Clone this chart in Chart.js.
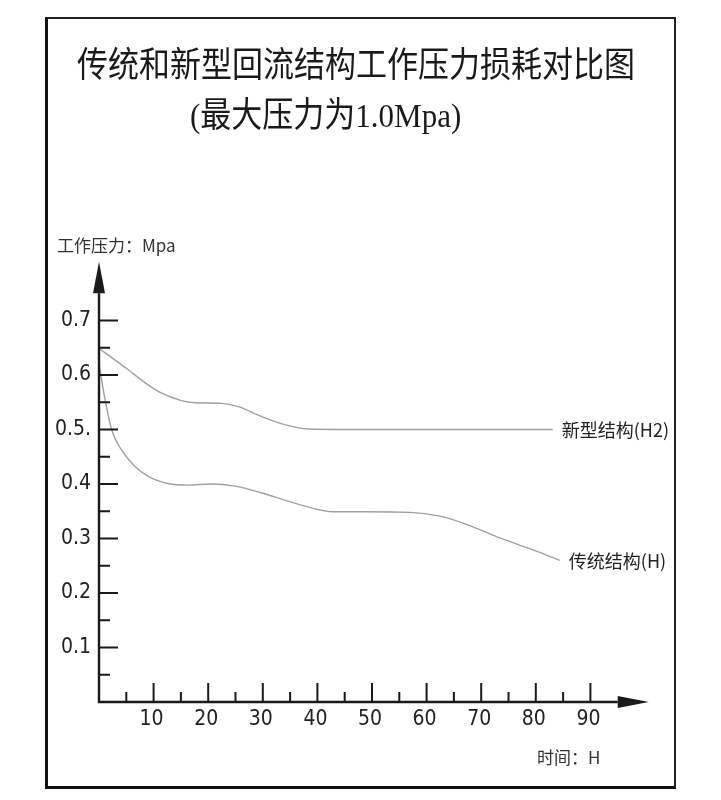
<!DOCTYPE html>
<html lang="zh">
<head>
  <meta charset="UTF-8">
  <title>传统和新型回流结构工作压力损耗对比图</title>
  <script src="https://cdn.jsdelivr.net/npm/chart.js@4"></script>
  <style>
    body {
      margin: 0;
      background-color: #fff;
      font-family: "Noto Sans CJK SC", sans-serif;
      color: #1a1a1a;
    }
    #page {
      position: relative;
      width: 721px;
      height: 800px;
      overflow: hidden;
    }
    #chart {
      position: absolute;
      left: 0;
      top: 0;
    }
    #frame {
      position: absolute;
      left: 45px;
      top: 17px;
      width: 626px;
      height: 767px;
      border-left: 3px solid #111;
      border-top: 2px solid #222;
      border-right: 2px solid #222;
      border-bottom: 3px solid #111;
    }
    .title {
      position: absolute;
      white-space: nowrap;
      line-height: 1;
      transform-origin: left center;
      transform: scaleY(1.12);
    }
    #title1 {
      left: 77px;
      top: 46px;
      font-size: 31px;
    }
    #title2 {
      left: 190px;
      top: 97px;
      font-size: 31px;
    }
    #title2 .lat {
      font-family: "Liberation Serif", serif;
    }
    .axis-name {
      position: absolute;
      white-space: nowrap;
      line-height: 1;
      font-size: 17px;
      color: #333;
    }
  </style>
</head>
<body>
  <div id="page">
    <canvas id="chart" width="721" height="800"></canvas>
    <div id="frame"></div>
    <div class="title" id="title1">传统和新型回流结构工作压力损耗对比图</div>
    <div class="title" id="title2"><span class="lat">(</span>最大压力为<span class="lat">1.0Mpa)</span></div>
    <div class="axis-name" style="left:57px; top:236px;">工作压力：Mpa</div>
    <div class="axis-name" style="left:537px; top:748px;">时间：H</div>
  </div>

  <script>
    // 新型结构 (H2)
    const hoursNew = [0, 5.3, 8.4, 11.4, 15.1, 17.5, 22.4, 25.5, 29.7, 34, 38.3, 50, 65, 83.1];
    const pressureNew = [0.649, 0.61, 0.586, 0.567, 0.553, 0.549, 0.548, 0.542, 0.524, 0.509, 0.501, 0.5, 0.5, 0.5];

    // 传统结构 (H)
    const hoursOld = [0, 1.0, 2.3, 4.1, 6.5, 9, 12.6, 16.3, 20.6, 24.9, 29.7, 35.8, 42.9, 49, 56.9, 62.4, 67.3, 73.4, 79.5, 84.4];
    const pressureOld = [0.62, 0.561, 0.5, 0.463, 0.433, 0.414, 0.401, 0.398, 0.4, 0.396, 0.384, 0.365, 0.349, 0.349, 0.348, 0.341, 0.326, 0.301, 0.279, 0.26];

    const seriesNames = ["新型结构(H2)", "传统结构(H)"];

    // axis ticks
    const xTicks = [10, 20, 30, 40, 50, 60, 70, 80, 90];
    const xTickLabels = ["10", "20", "30", "40", "50", "60", "70", "80", "90"];
    const xMinorTicks = [5, 15, 25, 35, 45, 55, 65, 75, 85];
    const yTicks = [0.1, 0.2, 0.3, 0.4, 0.5, 0.6, 0.7];
    const yTickLabels = ["0.1", "0.2", "0.3", "0.4", "0.5.", "0.6", "0.7"];
    const yMinorTicks = [0.05, 0.15, 0.25, 0.35, 0.45, 0.55, 0.65];

    const toPoints = (xs, ys) => xs.map((x, i) => ({ x: x, y: ys[i] }));

    const tickFont = '21px "Liberation Sans Narrow", "DejaVu Sans Condensed", sans-serif';
    const labelFont = '18px "Noto Sans CJK SC", sans-serif';

    // draws the arrowed axes, inward ticks and the end-of-line labels
    const axesPlugin = {
      id: "cadAxes",
      afterDraw(chart) {
        const ctx = chart.ctx;
        const xs = chart.scales.x;
        const ys = chart.scales.y;
        const x0 = xs.getPixelForValue(0);
        const y0 = ys.getPixelForValue(0);

        ctx.save();
        ctx.strokeStyle = "#1a1a1a";
        ctx.fillStyle = "#1a1a1a";
        ctx.lineWidth = 2.4;

        // y axis + arrow
        const yArrowBase = ys.getPixelForValue(0.75);
        const yArrowTip = ys.getPixelForValue(0.808);
        ctx.beginPath();
        ctx.moveTo(x0, y0 + 1);
        ctx.lineTo(x0, yArrowBase);
        ctx.stroke();
        ctx.beginPath();
        ctx.moveTo(x0 - 6, yArrowBase);
        ctx.lineTo(x0 + 6, yArrowBase);
        ctx.lineTo(x0, yArrowTip);
        ctx.closePath();
        ctx.fill();

        // x axis + arrow
        const xArrowBase = xs.getPixelForValue(95);
        const xArrowTip = xs.getPixelForValue(100.7);
        ctx.beginPath();
        ctx.moveTo(x0 - 1, y0);
        ctx.lineTo(xArrowBase, y0);
        ctx.stroke();
        ctx.beginPath();
        ctx.moveTo(xArrowBase, y0 - 6);
        ctx.lineTo(xArrowBase, y0 + 6);
        ctx.lineTo(xArrowTip, y0);
        ctx.closePath();
        ctx.fill();

        // ticks
        ctx.lineWidth = 2;
        ctx.beginPath();
        yTicks.forEach((v) => {
          const py = ys.getPixelForValue(v);
          ctx.moveTo(x0, py);
          ctx.lineTo(x0 + 19, py);
        });
        yMinorTicks.forEach((v) => {
          const py = ys.getPixelForValue(v);
          ctx.moveTo(x0, py);
          ctx.lineTo(x0 + 11, py);
        });
        xTicks.forEach((v) => {
          const px = xs.getPixelForValue(v);
          ctx.moveTo(px, y0);
          ctx.lineTo(px, y0 - 19);
        });
        xMinorTicks.forEach((v) => {
          const px = xs.getPixelForValue(v);
          ctx.moveTo(px, y0);
          ctx.lineTo(px, y0 - 10);
        });
        ctx.stroke();

        // tick labels
        ctx.font = tickFont;
        ctx.fillStyle = "#222";
        ctx.textBaseline = "middle";
        ctx.textAlign = "right";
        yTicks.forEach((v, i) => {
          ctx.fillText(yTickLabels[i], x0 - 8, ys.getPixelForValue(v));
        });
        ctx.textAlign = "center";
        xTicks.forEach((v, i) => {
          ctx.fillText(xTickLabels[i], xs.getPixelForValue(v) - 2, y0 + 18);
        });

        // series names at the end of each line
        ctx.font = labelFont;
        ctx.textAlign = "left";
        chart.data.datasets.forEach((ds, i) => {
          const meta = chart.getDatasetMeta(i);
          const last = meta.data[meta.data.length - 1];
          ctx.fillText(seriesNames[i], last.x + 9, last.y + 1);
        });
        ctx.restore();
      },
    };

    const chart = new Chart(document.getElementById("chart"), {
      type: "line",
      data: {
        datasets: [
          {
            label: seriesNames[0],
            data: toPoints(hoursNew, pressureNew),
            borderColor: "#a0a0a0",
            borderWidth: 1.4,
            pointRadius: 0,
            cubicInterpolationMode: "monotone",
            fill: false,
          },
          {
            label: seriesNames[1],
            data: toPoints(hoursOld, pressureOld),
            borderColor: "#a0a0a0",
            borderWidth: 1.4,
            pointRadius: 0,
            cubicInterpolationMode: "monotone",
            fill: false,
          },
        ],
      },
      options: {
        responsive: false,
        animation: false,
        layout: {
          padding: { left: 99, right: 76, top: 266, bottom: 98 },
        },
        plugins: {
          legend: { display: false },
          tooltip: { enabled: false },
        },
        scales: {
          x: { type: "linear", min: 0, max: 100, display: false },
          y: { type: "linear", min: 0, max: 0.8, display: false },
        },
      },
      plugins: [axesPlugin],
    });
  </script>
</body>
</html>
